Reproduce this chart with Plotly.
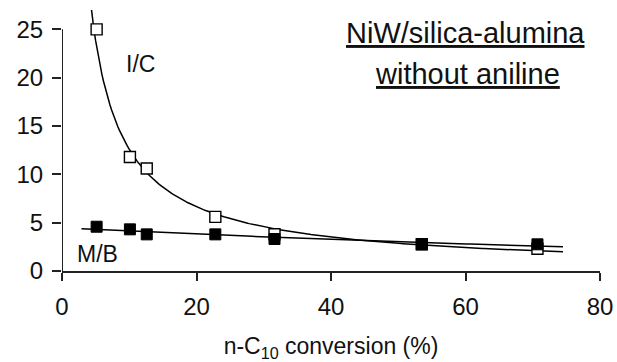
import numpy as np
import plotly.graph_objects as go

# Data
conversion = [5.15, 10.1, 12.6, 22.8, 31.6, 53.5, 70.7]
ic_ratio = [25.0, 11.8, 10.6, 5.6, 3.8, 2.76, 2.3]
mb_ratio = [4.58, 4.31, 3.79, 3.79, 3.31, 2.76, 2.76]

ic_fit_span = [4.05, 74.5]   # power-law trendline extent
mb_fit_span = [2.9, 74.5]    # exponential trendline extent

x_ticks = [0, 20, 40, 60, 80]
y_ticks = [0, 5, 10, 15, 20, 25]

FONT = "Arial, Liberation Sans, Helvetica, sans-serif"

# Trendlines fitted from the data
cx = np.array(conversion)
b, ln_a = np.polyfit(np.log(cx), np.log(np.array(ic_ratio)), 1)
ic_x = np.linspace(ic_fit_span[0], ic_fit_span[1], 300)
ic_y = np.exp(ln_a) * ic_x ** b

k, ln_c = np.polyfit(cx, np.log(np.array(mb_ratio)), 1)
mb_x = np.linspace(mb_fit_span[0], mb_fit_span[1], 100)
mb_y = np.exp(ln_c) * np.exp(k * mb_x)

fig = go.Figure()
fig.add_trace(go.Scatter(x=ic_x, y=ic_y, mode="lines",
                         line=dict(color="black", width=1.5), hoverinfo="skip"))
fig.add_trace(go.Scatter(x=mb_x, y=mb_y, mode="lines",
                         line=dict(color="black", width=1.5), hoverinfo="skip"))
fig.add_trace(go.Scatter(x=conversion, y=ic_ratio, mode="markers", name="I/C",
                         marker=dict(symbol="square", size=11, color="white",
                                     line=dict(color="black", width=1.4))))
fig.add_trace(go.Scatter(x=conversion, y=mb_ratio, mode="markers", name="M/B",
                         marker=dict(symbol="square", size=11, color="black",
                                     line=dict(color="black", width=1))))

# y axis line from 0 to 25 only (curve runs above it)
fig.add_shape(type="line", xref="x", yref="y", x0=0, x1=0, y0=0, y1=y_ticks[-1],
              line=dict(color="#222", width=2))

fig.add_annotation(x=11.6, y=21.4, text="I/C", showarrow=False,
                   font=dict(family=FONT, size=23, color="#111"))
fig.add_annotation(x=5.3, y=1.8, text="M/B", showarrow=False,
                   font=dict(family=FONT, size=23, color="#111"))
fig.add_annotation(x=60.0, y=24.6,
                   text='<span style="text-decoration:underline">NiW/silica-alumina</span>',
                   showarrow=False, font=dict(family=FONT, size=29, color="#111"))
fig.add_annotation(x=60.3, y=20.4,
                   text='<span style="text-decoration:underline">without aniline</span>',
                   showarrow=False, font=dict(family=FONT, size=29, color="#111"))

fig.update_layout(
    width=617, height=362,
    margin=dict(l=62, r=17, t=10, b=91),
    paper_bgcolor="white", plot_bgcolor="white",
    showlegend=False,
    font=dict(family=FONT, size=24, color="#111"),
    xaxis=dict(range=[0, 80], tickvals=x_ticks, ticks="outside", ticklen=8,
               tickwidth=2, tickcolor="#222", showline=True, linecolor="#222",
               linewidth=2, showgrid=False, zeroline=False, automargin=False,
               ticklabelstandoff=5,
               title=dict(text="n-C<sub>10</sub> conversion (%)", standoff=22,
                          font=dict(size=23))),
    yaxis=dict(range=[0, 27], tickvals=y_ticks, ticks="outside", ticklen=9,
               tickwidth=2, tickcolor="#222", showline=False, automargin=False,
               ticklabelstandoff=4,
               showgrid=False, zeroline=False),
)

fig.write_html("out.html")
